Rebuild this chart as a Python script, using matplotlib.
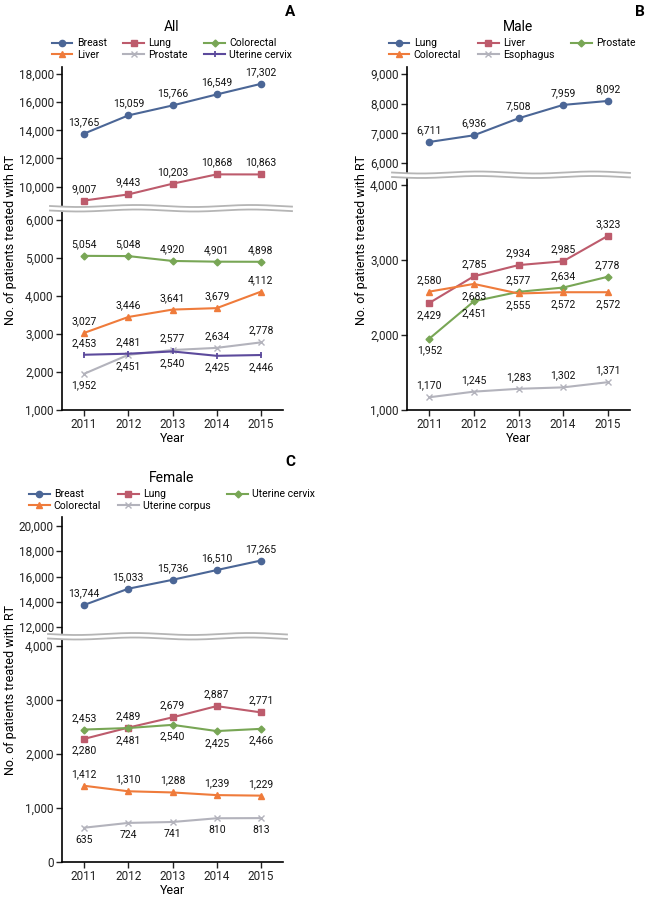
import numpy as np
import matplotlib
matplotlib.use("Agg")
import matplotlib.pyplot as plt
from matplotlib.lines import Line2D
from matplotlib.patches import Polygon

plt.rcParams['font.family'] = ['Roboto', 'DejaVu Sans']

years = [2011, 2012, 2013, 2014, 2015]

# Panel A: All
a_breast = [13765, 15059, 15766, 16549, 17302]
a_lung = [9007, 9443, 10203, 10868, 10863]
a_colorectal = [5054, 5048, 4920, 4901, 4898]
a_liver = [3027, 3446, 3641, 3679, 4112]
a_prostate = [1952, 2451, 2577, 2634, 2778]
a_cervix = [2453, 2481, 2540, 2425, 2446]

# Panel B: Male
b_lung = [6711, 6936, 7508, 7959, 8092]
b_liver = [2429, 2785, 2934, 2985, 3323]
b_prostate = [1952, 2451, 2577, 2634, 2778]
b_colorectal = [2580, 2683, 2555, 2572, 2572]
b_esophagus = [1170, 1245, 1283, 1302, 1371]

# Panel C: Female
c_breast = [13744, 15033, 15736, 16510, 17265]
c_lung = [2280, 2489, 2679, 2887, 2771]
c_cervix = [2453, 2481, 2540, 2425, 2466]
c_colorectal = [1412, 1310, 1288, 1239, 1229]
c_corpus = [635, 724, 741, 810, 813]

BLUE = '#4B6696'
RED = '#BD5B6C'
GREEN = '#78A655'
ORANGE = '#EF7B3B'
GRAY = '#B3B3BC'
PURPLE = '#5C4A9C'

W, H = 654, 900
fig = plt.figure(figsize=(W / 100, H / 100), dpi=100)


def rect(x0, x1, ytop, ybot):
    return [x0 / W, 1 - ybot / H, (x1 - x0) / W, (ybot - ytop) / H]


def style(ax, bottom=True):
    for s in ['top', 'right']:
        ax.spines[s].set_visible(False)
    ax.spines['left'].set_linewidth(1.2)
    ax.tick_params(axis='y', direction='out', length=4, width=1, labelsize=8.5, pad=2, colors='#222222')
    if bottom:
        ax.spines['bottom'].set_linewidth(1.2)
        ax.tick_params(axis='x', direction='out', length=4, width=1, labelsize=8.5, pad=2, colors='#222222')
        ax.set_xticks(years)
    else:
        ax.spines['bottom'].set_visible(False)
        ax.tick_params(axis='x', bottom=False, labelbottom=False)
    ax.set_xlim(2010.5, 2015.5)
    ax.yaxis.set_major_formatter(matplotlib.ticker.FuncFormatter(lambda v, p: f"{int(v):,}"))


def plot_series(ax, vals, color, marker, pos, ms=4.5, mew=1.0):
    ax.plot(years, vals, color=color, marker=marker, markersize=ms, lw=1.5,
            markeredgewidth=mew, clip_on=False)
    for x, v, p in zip(years, vals, pos):
        off = 8.5 if p == 'a' else -8.5
        ax.annotate(f"{v:,}", (x, v), xytext=(0, off), textcoords='offset points',
                    ha='center', va='center', fontsize=7.5, color='#111111')


def wave(x0, x1, y0, y1):
    xs = np.linspace(x0, x1, 200)
    amp = 1.0
    top = y0 + amp * np.sin(2 * np.pi * (xs - x0) / 115.0)
    bot = y1 + amp * np.sin(2 * np.pi * (xs - x0) / 115.0)
    poly = np.concatenate([np.column_stack([xs, top]), np.column_stack([xs[::-1], bot[::-1]])])
    poly[:, 0] /= W
    poly[:, 1] = 1 - poly[:, 1] / H
    fig.add_artist(Polygon(poly, closed=True, facecolor='white', edgecolor='none',
                           transform=fig.transFigure, zorder=10))
    for yy in (top, bot):
        fig.add_artist(Line2D(xs / W, 1 - yy / H, color='#B5B5B5', lw=1.3,
                              transform=fig.transFigure, zorder=11))


def legend(handles, labels, cx, cy):
    fig.legend(handles, labels, loc='center', bbox_to_anchor=(cx / W, 1 - cy / H), ncol=3,
               frameon=False, fontsize=7.5, handlelength=2.0, handletextpad=0.4,
               columnspacing=1.6, labelspacing=0.1, borderpad=0)


def handle(color, marker, ms=4.5, mew=1.0):
    return Line2D([], [], color=color, marker=marker, markersize=ms, lw=1.5, markeredgewidth=mew)


# ---------------- Panel A ----------------
axAt = fig.add_axes(rect(62, 283, 67, 206))
axAb = fig.add_axes(rect(62, 283, 210, 410))
style(axAt, bottom=False)
style(axAb)
axAt.set_ylim(8620, 18500)
axAt.set_yticks([10000, 12000, 14000, 16000, 18000])
axAb.set_ylim(1000, 6260)
axAb.set_yticks([1000, 2000, 3000, 4000, 5000, 6000])
plot_series(axAt, a_breast, BLUE, 'o', ['a'] * 5)
plot_series(axAt, a_lung, RED, 's', ['a'] * 5, ms=4)
plot_series(axAb, a_colorectal, GREEN, 'D', ['a'] * 5, ms=3.5)
plot_series(axAb, a_liver, ORANGE, '^', ['a'] * 5)
plot_series(axAb, a_prostate, GRAY, 'x', ['b', 'b', 'a', 'a', 'a'], ms=4)
plot_series(axAb, a_cervix, PURPLE, '|', ['a', 'a', 'b', 'b', 'b'], ms=5, mew=1.3)
wave(50, 292, 206, 210.5)
fig.text(172 / W, 1 - 27 / H, 'All', ha='center', va='center', fontsize=10)
fig.text(290 / W, 1 - 12 / H, 'A', ha='center', va='center', fontsize=11, fontweight='bold')
legend([handle(BLUE, 'o'), handle(ORANGE, '^'), handle(RED, 's', 4), handle(GRAY, 'x', 4),
        handle(GREEN, 'D', 3.5), handle(PURPLE, '|', 5, 1.3)],
       ['Breast', 'Liver', 'Lung', 'Prostate', 'Colorectal', 'Uterine cervix'], 172, 49)
fig.text(11 / W, 1 - 240 / H, 'No. of patients treated with RT', rotation=90,
         ha='center', va='center', fontsize=9)
fig.text(172 / W, 1 - 438 / H, 'Year', ha='center', va='center', fontsize=9)

# ---------------- Panel B ----------------
axBt = fig.add_axes(rect(407, 630, 67, 172))
axBb = fig.add_axes(rect(407, 630, 177, 410))
style(axBt, bottom=False)
style(axBb)
axBt.set_ylim(5700, 9236)
axBt.set_yticks([6000, 7000, 8000, 9000])
axBb.set_ylim(1000, 4110)
axBb.set_yticks([1000, 2000, 3000, 4000])
plot_series(axBt, b_lung, BLUE, 'o', ['a'] * 5)
plot_series(axBb, b_liver, RED, 's', ['b', 'a', 'a', 'a', 'a'], ms=4)
plot_series(axBb, b_prostate, GREEN, 'D', ['b', 'b', 'a', 'a', 'a'], ms=3.5)
plot_series(axBb, b_colorectal, ORANGE, '^', ['a', 'b', 'b', 'b', 'b'])
plot_series(axBb, b_esophagus, GRAY, 'x', ['a'] * 5, ms=4)
wave(392, 630, 172.5, 177)
fig.text(518 / W, 1 - 27 / H, 'Male', ha='center', va='center', fontsize=10)
fig.text(640 / W, 1 - 12 / H, 'B', ha='center', va='center', fontsize=11, fontweight='bold')
legend([handle(BLUE, 'o'), handle(ORANGE, '^'), handle(RED, 's', 4), handle(GRAY, 'x', 4),
        handle(GREEN, 'D', 3.5)],
       ['Lung', 'Colorectal', 'Liver', 'Esophagus', 'Prostate'], 512, 49)
fig.text(361 / W, 1 - 240 / H, 'No. of patients treated with RT', rotation=90,
         ha='center', va='center', fontsize=9)
fig.text(518 / W, 1 - 438 / H, 'Year', ha='center', va='center', fontsize=9)

# ---------------- Panel C ----------------
axCt = fig.add_axes(rect(62, 283, 517, 633))
axCb = fig.add_axes(rect(62, 283, 639, 862))
style(axCt, bottom=False)
style(axCb)
axCt.set_ylim(11525, 20713)
axCt.set_yticks([12000, 14000, 16000, 18000, 20000])
axCb.set_ylim(0, 4130)
axCb.set_yticks([0, 1000, 2000, 3000, 4000])
plot_series(axCt, c_breast, BLUE, 'o', ['a'] * 5)
plot_series(axCb, c_lung, RED, 's', ['b', 'a', 'a', 'a', 'a'], ms=4)
plot_series(axCb, c_cervix, GREEN, 'D', ['a', 'b', 'b', 'b', 'b'], ms=3.5)
plot_series(axCb, c_colorectal, ORANGE, '^', ['a'] * 5)
plot_series(axCb, c_corpus, GRAY, 'x', ['b'] * 5, ms=4)
wave(48, 287, 634, 638.5)
fig.text(172 / W, 1 - 478 / H, 'Female', ha='center', va='center', fontsize=10)
fig.text(290 / W, 1 - 462 / H, 'C', ha='center', va='center', fontsize=11, fontweight='bold')
legend([handle(BLUE, 'o'), handle(ORANGE, '^'), handle(RED, 's', 4), handle(GRAY, 'x', 4),
        handle(GREEN, 'D', 3.5)],
       ['Breast', 'Colorectal', 'Lung', 'Uterine corpus', 'Uterine cervix'], 172, 500)
fig.text(11 / W, 1 - 690 / H, 'No. of patients treated with RT', rotation=90,
         ha='center', va='center', fontsize=9)
fig.text(172 / W, 1 - 890 / H, 'Year', ha='center', va='center', fontsize=9)

fig.savefig('out.png', dpi=100, facecolor='white')
